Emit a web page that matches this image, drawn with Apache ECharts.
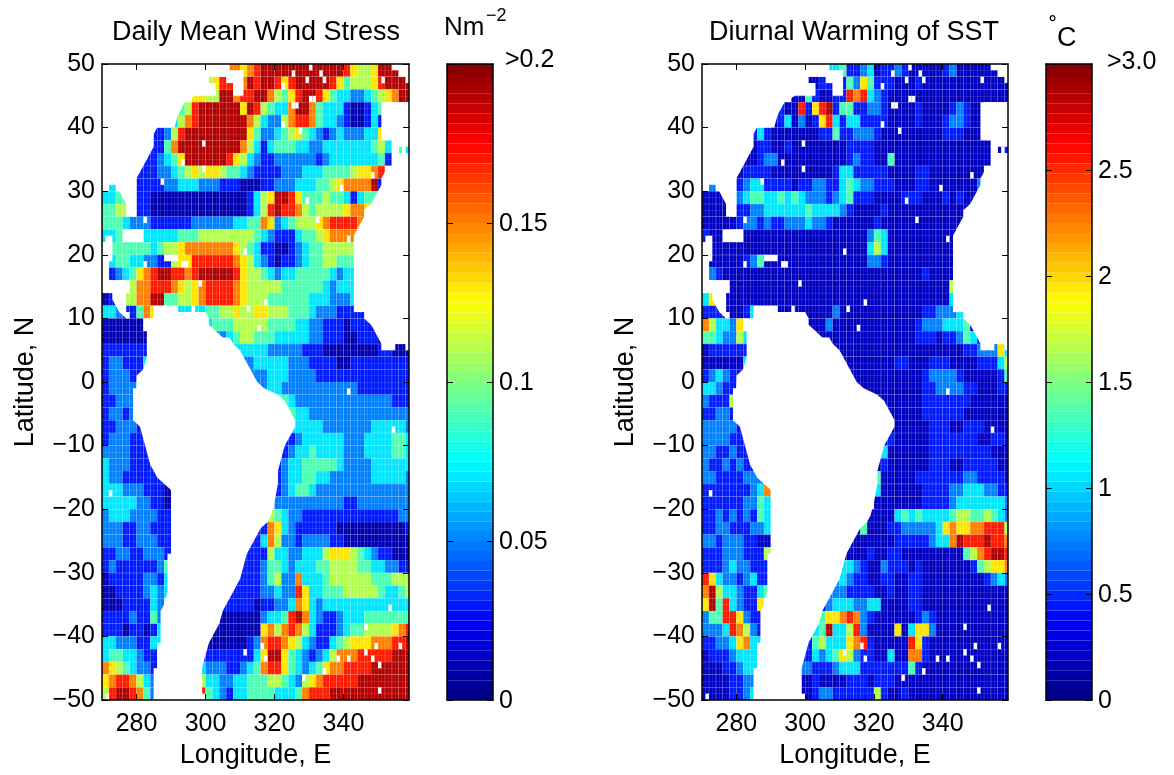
<!DOCTYPE html>
<html><head><meta charset="utf-8">
<style>html,body{margin:0;padding:0;background:#fff}#c{width:1174px;height:775px}</style>
<script src="https://cdn.jsdelivr.net/npm/echarts@6/dist/echarts.min.js"></script>
</head><body><div id="c"></div>
<script>
// Each string is one 2-degree latitude band from 50N to 50S; each char is a 2-degree longitude cell from 270E.
// '.' = no data; 0-9 = tenth of the colour scale the cell falls in.
const windRows = [
"..... ..... ..... ...77 67899 99999 99999 86556 999..",
"..... ..... ..... 5688. 79899 86899 99986 45556 89999",
"..... ..... ...66 55997 88997 54689 98643 32234 56799",
"..... ..... .4589 99999 69854 33799 74333 10013 4....",
"..... ..... 35789 99999 97532 25788 74332 10013 1....",
"..... ..112 58999 99999 96422 34564 32123 22233 6....",
"..... ..114 79999 99999 75313 44433 22333 33334 53.43",
"..... .1123 46999 99986 53211 22222 21233 33333 41...",
"..... 11122 34565 66544 32111 12223 33444 45667 8....",
".3... 11112 23332 22111 00011 22233 34456 77779 1....",
"3344. 11000 00000 00000 01356 99864 44544 31344 .....",
"4455. 11000 00000 00000 01358 98875 45555 6776. .....",
"44432 22111 11122 22223 34476 23455 56788 8873. .....",
"3344. .3333 34445 55555 55432 11134 45677 775.. .....",
".4444 44345 56777 77776 54311 00123 44555 55... .....",
".3443 32211 56688 88887 65321 01123 44554 44... .....",
".1234 67899 88789 99998 65543 23344 44432 33... .....",
"....5 77888 76567 88887 65555 54444 44323 33... .....",
"01.55 77994 45567 88887 65554 44444 33322 23... .....",
"33211 476.. .3333 44556 55665 55444 32221 1111. .....",
"00000 0.... ..... 34445 55554 44433 22111 01110 .....",
"00000 00... ..... .2234 55444 33333 22111 00111 0....",
"11111 11... ..... ....3 33332 22221 11000 00000 11000",
"12211 13... ..... ..... 22333 33222 11110 01111 11111",
"12221 1.... ..... ..... .2223 33222 21111 11111 11111",
"12222 ..... ..... ..... ..223 32222 22222 22111 11111",
"11222 ..... ..... ..... ..... 44322 22222 22222 22111",
"12212 ..... ..... ..... ..... ..433 22222 22222 22222",
"11222 1.... ..... ..... ..... ..333 33222 22223 33332",
"12221 11... ..... ..... ..... .1123 33333 22233 33443",
"22221 11... ..... ..... ..... .1233 43333 22233 33443",
"32221 111.. ..... ..... ..... 12334 44443 22223 33333",
"32211 1111. ..... ..... ..... 12334 43322 22223 33332",
"33322 21110 ..... ..... ..... 12344 32222 22222 22222",
"33333 22110 ..... ..... ..... 22222 22222 11222 22222",
"23332 22211 ..... ..... ....5 43221 11111 11111 11122",
"22211 22111 ..... ..... ..117 63211 11110 00000 00001",
"22211 22211 ..... ..... .1137 52212 22211 00000 00000",
"11221 12221 ..... ..... 11115 33223 33566 65432 11000",
"12111 11124 ..... ..... 11124 43233 34455 55443 32211",
"01111 12213 ..... ....1 11124 52273 33455 55554 44555",
"00111 12323 ..... ...11 11122 32286 33444 55555 43345",
"00011 1132. ..... ..111 11011 22376 32333 33333 33333",
"11112 1142. ..... ..000 00023 34897 32112 33344 44444",
"11101 1013. ..... .0000 00067 57875 31112 34455 55678",
"33222 1133. ..... 00000 01278 87653 21134 56667 77889",
"34433 211.. ....1 11111 11369 96432 12357 77888 88999",
"76543 221.. ....3 22211 23478 86432 34677 88889 99999",
"67887 532.. ....5 33223 34445 54325 67888 88999 99999",
"58998 742.. ....8 43213 34444 33347 88899 99999 99999"
];
const sstRows = [
"..... ..... ..... ...33 41123 01121 00000 12000 000..",
"..... ..... ..... 0011. 14264 11100 01000 00000 00000",
"..... ..... ...00 41001 18783 21000 00000 00000 00000",
"..... ..... .1008 16891 44112 21000 01000 01210 0....",
"..... ..... 01302 01683 13311 11000 01000 12210 0....",
"..... ..131 00000 00114 11222 10000 00000 11100 0....",
"..... ..011 00100 00000 01111 00000 00000 00000 00.01",
"..... .0012 20000 00000 01211 00400 00000 00000 00...",
"..... 01111 00000 00001 33111 11000 01100 00000 0....",
".2... 12331 11101 12211 34322 11100 01100 00000 2....",
"0000. 23443 34343 22212 34111 00001 11000 10100 .....",
"0000. 11223 33333 43333 21000 01000 00000 0000. .....",
"00000 12212 11222 32210 00000 10000 00000 0000. .....",
"1000. .0000 00000 00000 00002 43000 00000 000.. .....",
".0000 00000 00000 00000 00003 53000 00000 00... .....",
".0000 01240 00000 00000 00002 21000 00000 00... .....",
".2100 00000 00000 00000 00000 00000 00100 00... .....",
"....0 00000 00000 00000 00000 00000 00000 05... .....",
"36.00 00000 00000 00000 00000 00000 00000 03... .....",
"11100 013.. .0000 00002 00000 00000 00112 2232. .....",
"75332 6.... ..... 00020 00000 00000 01222 33340 .....",
"44322 53... ..... .0000 00000 00000 01110 11243 1....",
"01111 11... ..... ....0 00000 00000 00000 00011 22263",
"00000 03... ..... ..... 00000 00011 00011 10000 11135",
"12321 1.... ..... ..... .0000 00000 00122 22100 00014",
"33211 ..... ..... ..... ..000 00000 00112 22211 00011",
"21115 ..... ..... ..... ..... 00000 00111 11110 00000",
"11221 ..... ..... ..... ..... ..000 00111 11100 00000",
"22222 1.... ..... ..... ..... ..000 00011 10011 10000",
"22221 11... ..... ..... ..... .0100 00011 11111 00110",
"22112 11... ..... ..... ..... .3000 00011 11111 11000",
"21121 211.. ..... ..... ..... 01000 00011 10011 11100",
"22111 1222. ..... ..... ..... 40000 01111 11122 11110",
"11111 11237 ..... ..... ..... 30000 00111 12233 32211",
"11111 12243 ..... ..... ..... 00000 00111 12333 33332",
"11212 12143 ..... ..... ....0 00034 34333 34554 45432",
"11221 11223 ..... ..... ..040 00112 22223 67667 78885",
"22122 21100 ..... ..... .0000 00011 11123 37988 89887",
"11122 21115 ..... ..... 00001 00110 00000 00045 78998",
"11123 22111 ..... ..... 33210 02111 01000 00001 45667",
"86322 12311 ..... ....2 32110 01100 11000 00000 01232",
"79533 21134 ..... ...22 21111 00100 11000 00000 00000",
"69483 2116. ..... ..123 33223 30000 11000 00000 00000",
"24488 6211. ..... ..466 78721 00000 01210 00000 00000",
"22238 7521. ..... .3493 35820 00060 36620 00000 00000",
"11223 6733. ..... 14533 36781 00000 86100 00000 00000",
"01112 333.. ....1 13234 65211 00300 77100 00000 00000",
"00011 233.. ....2 21112 33311 11111 41000 00000 00000",
"00001 122.. ....0 01000 01110 11100 00000 00000 00000",
"00001 123.. ....0 01221 11111 51001 00000 00000 00000"
];
// Land outlines, as [longitude, latitude] vertices.
const landNorthAmerica = [[270,50],[307,50],[307,49],[311,49],[311,45],[308,45],[308,47],[306,47],[306,48],[301,48],[301,47],[303,47],[303,45],[297,45],[294,44],[292,42],[291,40],[286,40],[285,39],[285,37],[284,36],[283,35],[282,34],[280,32],[280,26],[277,26],[277,28],[275,30],[274,30],[274,31],[272,31],[272,30],[270,30]];
const landMexico = [[271,23],[273,23],[273,19],[272,19],[272,16],[278,16],[278,14],[277,14],[277,11],[278,11],[278,10],[277,10],[275,11],[274,12],[273,13],[273,14],[270,14],[270,22],[271,22]];
const landCuba = [[276,24],[282,24],[282,22],[276,22]];
const landHispaniola = [[288,20],[292,20],[292,19],[288,19]];
const landPuertoRico = [[293,19],[295,19],[295,18],[293,18]];
const landSouthAmerica = [[285,12],[292,12],[292,11],[296,11],[296,12],[297,12],[297,11],[300,11],[301,10],[301,9],[303,8],[305,7],[307,7],[308,6],[310,5],[311,4],[312,3],[313,2],[314,1],[315,0],[317,-1],[321,-2],[323,-3],[324,-4],[325,-5],[326,-6],[326,-7],[325,-8],[324,-9],[323,-10],[322,-12],[321,-14],[321,-16],[320,-19],[319,-21],[318,-22],[316,-23],[315,-24],[314,-25],[313,-26],[312,-27],[311,-29],[310,-31],[309,-32],[308,-33],[307,-34],[306,-35],[305,-36],[304,-38],[303,-39],[302,-40],[301,-41],[300,-43],[299,-45],[299,-49],[300,-49],[300,-50],[285,-50],[285,-45],[286,-45],[286,-41],[287,-41],[287,-36],[288,-35],[289,-33],[289,-27],[290,-27],[290,-17],[288,-16],[286,-15],[285,-14],[284,-13],[283,-11],[282,-9],[281,-7],[279,-6],[279,-1],[280,-1],[280,1],[282,2],[283,4],[283,8],[282,8],[282,10],[285,10]];
const landEurope = [[354,50],[354,49],[356,49],[356,48],[358,48],[358,47],[359,47],[359,50]];
const landAfricaNorth = [[359,44],[351,44],[351,38],[354,38],[354,37],[359,37]];
const landGibraltar = [[354,37],[356,37],[356,36],[354,36]];
const landAlboran = [[357,37],[358,37],[358,36],[357,36]];
const landAfrica = [[359,36],[354,36],[354,34],[352,34],[352,33],[351,32],[351,31],[350,30],[348,28],[346,27],[346,26],[345,25],[344,24],[343,23],[343,11],[346,11],[346,10],[348,9],[349,8],[350,7],[351,6],[351,5],[355,5],[355,6],[358,6],[358,5],[359,5]];
const landAreas = [landNorthAmerica, landMexico, landCuba, landHispaniola, landPuertoRico, landSouthAmerica, landEurope, landAfricaNorth, landGibraltar, landAlboran, landAfrica];
// Single missing 1-degree cells, as [west longitude, north latitude].
const missingCells = [[299,38],[287,32],[282,26],[311,21],[317,13],[312,12],[315,9],[282,19],[298,16],[341,23],[329,29],[332,26],[339,31],[348,33],[325,44],[326,44],[330,45],[331,45],[322,47],[329,48],[334,48],[325,49],[330,50],[333,49],[351,48],[327,40],[322,41],[293,35],[299,34],[272,-17],[341,-1],[354,-7],[353,-35],[346,-38],[349,-41],[356,-41],[346,-42],[338,-43],[341,-43],[348,-43],[350,-44],[334,-45],[328,-46],[311,-42],[317,-43],[316,-41],[350,-48],[271,-49]];

const lonTicks = [280, 300, 320, 340];
const windTicks = [0, 0.05, 0.1, 0.15, 0.2];
const windTickLabels = ['0','0.05','0.1','0.15','>0.2'];
const sstTicks = [0, 0.5, 1, 1.5, 2, 2.5, 3];
const sstTickLabels = ['0','0.5','1','1.5','2','2.5','>3.0'];
const windMax = 0.2, sstMax = 3;
const barSteps = 64;
const jetStops = ['#000080','#0000ff','#0080ff','#00ffff','#80ff80','#ffff00','#ff8000','#ff0000','#800000'];

const FONT = 'Liberation Sans, Arial, Helvetica, sans-serif';
const FS = 25, FS2 = 27;

function cells(rows, max, zero) {
  const out = [];
  rows.forEach((s, r) => {
    s.replace(/ /g, '').split('').forEach((ch, i) => {
      if (ch !== '.') out.push([270 + 2 * i, 50 - 2 * r, (ch === '0' ? zero : (Number(ch) + 0.5) / 10) * max]);
    });
  });
  return out;
}
function levels(max) {
  return Array.from({length: barSteps}, (_, k) => [k * max / barSteps, (k + 1) * max / barSteps, (k + 0.5) * max / barSteps]);
}
function clipTo(params, rect) {
  return echarts.graphic.clipRectByRect(rect, {x: params.coordSys.x, y: params.coordSys.y, width: params.coordSys.width, height: params.coordSys.height});
}
function renderCell(params, api) {
  const a = api.coord([api.value(0), api.value(1)]);
  const b = api.coord([api.value(0) + 2, api.value(1) - 2]);
  const shape = clipTo(params, {x: a[0], y: a[1], width: b[0] - a[0], height: b[1] - a[1]});
  return shape && {type: 'rect', shape, style: {fill: api.visual('color')}};
}
function renderStep(params, api) {
  const a = api.coord([0, api.value(1)]);
  const b = api.coord([1, api.value(0)]);
  return {type: 'rect', shape: {x: a[0], y: a[1], width: b[0] - a[0], height: b[1] - a[1]}, style: {fill: api.visual('color')}};
}
function renderLand(params, api) {
  const idx = api.value(0);
  if (idx < landAreas.length) {
    return {type: 'polygon', shape: {points: landAreas[idx].map(p => api.coord(p))}, style: {fill: '#fff'}};
  }
  const m = missingCells[idx - landAreas.length];
  const a = api.coord(m), b = api.coord([m[0] + 1, m[1] - 1]);
  return {type: 'rect', shape: {x: a[0], y: a[1], width: b[0] - a[0], height: b[1] - a[1]}, style: {fill: '#fff'}};
}
const line = {show: true, onZero: false, lineStyle: {color: '#000', width: 1.5}};
const tick = {show: true, inside: true, length: 6, lineStyle: {color: '#000', width: 1}};
const lab = {color: '#000', fontFamily: FONT, fontSize: FS};
const nameSt = {color: '#000', fontFamily: FONT, fontSize: FS2};
const lattice = {show: true, lineStyle: {color: 'rgba(255,255,255,0.11)', width: 1}};

const grids = [
  {left: 102, top: 64, width: 307, height: 636},
  {left: 702, top: 64, width: 306, height: 636},
  {left: 447, top: 64, width: 46, height: 636},
  {left: 1046, top: 64, width: 46, height: 636}
];
const xAxis = [], yAxis = [], series = [];
const off = {axisLine: {show: false}, axisTick: {show: false}, axisLabel: {show: false}};
[0, 1].forEach(g => {
  xAxis.push({gridIndex: g, z: 4, type: 'value', min: 270, max: 359, position: 'bottom', name: 'Longitude, E', nameLocation: 'middle', nameGap: 39, nameTextStyle: nameSt,
    axisLine: line, splitLine: {show: false},
    axisTick: Object.assign({}, tick, {customValues: lonTicks}),
    axisLabel: Object.assign({}, lab, {customValues: lonTicks, margin: 12})});
  xAxis.push({gridIndex: g, z: 4, type: 'value', min: 270, max: 359, position: 'top', axisLine: line, splitLine: {show: false},
    axisTick: Object.assign({}, tick, {customValues: lonTicks}), axisLabel: {show: false}});
  xAxis.push(Object.assign({gridIndex: g, z: 3, type: 'value', min: 270, max: 359, interval: 1, position: 'bottom', splitLine: lattice}, off));
  yAxis.push({gridIndex: g, z: 4, type: 'value', min: -50, max: 50, interval: 10, position: 'left', name: 'Latitude, N', nameLocation: 'middle', nameGap: 63, nameTextStyle: nameSt,
    axisLine: line, splitLine: {show: false}, axisTick: tick,
    axisLabel: Object.assign({}, lab, {margin: 7, padding: [3, 0, 0, 0], formatter: v => String(v).replace('-', '\u2212')})});
  yAxis.push({gridIndex: g, z: 4, type: 'value', min: -50, max: 50, interval: 10, position: 'right', axisLine: line, splitLine: {show: false}, axisTick: tick, axisLabel: {show: false}});
  yAxis.push(Object.assign({gridIndex: g, z: 3, type: 'value', min: -50, max: 50, interval: 1, position: 'left', splitLine: lattice}, off));
});
[[2, windTicks, windTickLabels, windMax], [3, sstTicks, sstTickLabels, sstMax]].forEach(([g, ticks, labels, max]) => {
  xAxis.push({gridIndex: g, z: 4, type: 'value', min: 0, max: 1, position: 'bottom', axisLine: line, axisTick: {show: false}, axisLabel: {show: false}, splitLine: {show: false}});
  xAxis.push({gridIndex: g, z: 4, type: 'value', min: 0, max: 1, position: 'top', axisLine: line, axisTick: {show: false}, axisLabel: {show: false}, splitLine: {show: false}});
  yAxis.push({gridIndex: g, z: 4, type: 'value', min: 0, max: max, position: 'left', axisLine: line, splitLine: {show: false},
    axisTick: Object.assign({}, tick, {customValues: ticks}), axisLabel: {show: false}});
  yAxis.push({gridIndex: g, z: 4, type: 'value', min: 0, max: max, position: 'right', axisLine: line, splitLine: {show: false},
    axisTick: Object.assign({}, tick, {customValues: ticks}),
    axisLabel: Object.assign({}, lab, {customValues: ticks, margin: 6, align: 'left', padding: [3, 0, 0, 0], showMinLabel: true, showMaxLabel: true,
      formatter: v => { const s = labels[ticks.indexOf(v)]; return s[0] === '>' ? '{top|' + s + '}' : s; },
      rich: {top: {color: '#000', fontFamily: FONT, fontSize: FS, padding: [0, 0, g === 2 ? 11 : 7, g === 2 ? 6 : 9]}}})});
});
const landData = landAreas.map((_, i) => [i]).concat(missingCells.map((_, i) => [landAreas.length + i]));
const cust = (name, xi, yi, render, data, z) => ({type: 'custom', name, xAxisIndex: xi, yAxisIndex: yi, coordinateSystem: 'cartesian2d', renderItem: render, data, silent: true, z, clip: true});
series.push(cust('wind', 0, 0, renderCell, cells(windRows, windMax, 0.05), 1));
series.push(cust('sst', 3, 3, renderCell, cells(sstRows, sstMax, 0.065), 1));
series.push(cust('windBar', 6, 6, renderStep, levels(windMax), 1));
series.push(cust('sstBar', 8, 8, renderStep, levels(sstMax), 1));
series.push(cust('windLand', 0, 0, renderLand, landData, 2));
series.push(cust('sstLand', 3, 3, renderLand, landData, 2));
series.forEach(s => { s.encode = {x: 0, y: 1}; });
series[4].encode = {}; series[5].encode = {};

const vm = (idx, dim, max) => ({show: false, type: 'continuous', seriesIndex: idx, dimension: dim, min: 0, max: max, inRange: {color: jetStops}});
const txt = (t, l, tp, fs) => ({text: t, left: l, top: tp, textStyle: {color: '#000', fontFamily: FONT, fontSize: fs, fontWeight: 'normal'}, padding: 0});

const chart = echarts.init(document.getElementById('c'), null, {renderer: 'canvas'});
chart.setOption({
  animation: false, backgroundColor: '#fff', grid: grids, xAxis, yAxis, series,
  visualMap: [vm(0, 2, windMax), vm(1, 2, sstMax), vm(2, 2, windMax), vm(3, 2, sstMax)],
  title: [
    txt('Daily Mean Wind Stress', 112, 19, FS2),
    txt('Diurnal Warming of SST', 709, 19, FS2),
    txt('Nm', 444, 15, 26),
    txt('\u22122', 486, 7, 18),
    txt('\u02da', 1049, 17, 25),
    txt('C', 1057, 25, FS2)
  ]
});
</script></body></html>
